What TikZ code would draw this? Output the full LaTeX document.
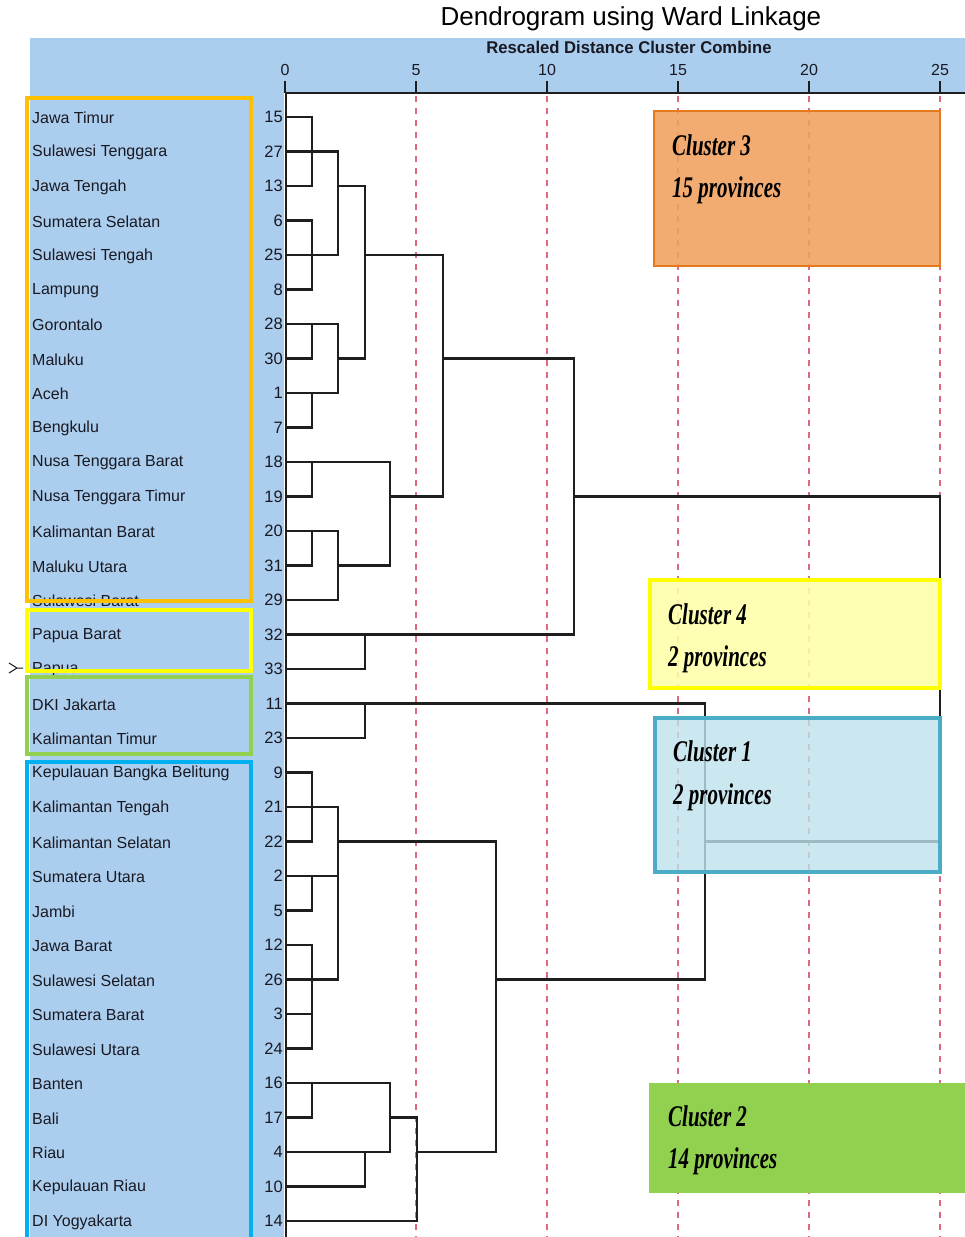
\documentclass[tikz,border=0pt]{standalone}
\usepackage{fontspec}
\usepackage{graphicx}
\setmainfont{Liberation Sans}
\newfontfamily\clfont{Liberation Serif}
\definecolor{hblue}{RGB}{172,206,238}
\definecolor{reddash}{RGB}{222,105,125}
\definecolor{dendro}{RGB}{30,30,30}
\definecolor{txt}{RGB}{25,25,35}
\definecolor{orangeB}{RGB}{255,192,0}
\definecolor{yellowB}{RGB}{255,255,0}
\definecolor{greenB}{RGB}{146,208,80}
\definecolor{blueB}{RGB}{0,176,240}
\definecolor{cthreefill}{RGB}{240,160,95}
\definecolor{cthreeborder}{RGB}{230,120,30}
\definecolor{cfourfill}{RGB}{255,255,170}
\definecolor{conefill}{RGB}{190,225,235}
\definecolor{coneborder}{RGB}{75,172,198}
\definecolor{ctwofill}{RGB}{146,208,80}
\def\Yrow#1{\csname yy#1\endcsname}
\def\mxa{312}\def\mxb{338}\def\mxc{365}\def\mxd{390}\def\mxe{417}
\def\mxf{443}\def\mxg{496}\def\mxh{574}\def\mxi{705}\def\mxj{940}
\newcommand\hseg[3]{\draw[dend] (#2,\Yrow{#1}) -- (#3,\Yrow{#1});}
\newcommand\vseg[3]{\draw[dend] (#1,\Yrow{#2}) -- (#1,\Yrow{#3});}
\begin{document}
\begin{tikzpicture}[x=1pt,y=-1pt,
  dend/.style={draw=dendro,line width=2.2pt,line cap=rect},
  redline/.style={draw=reddash,line width=1.3pt,dash pattern=on 6pt off 6pt},
  axisline/.style={draw=dendro,line width=2.2pt},
  lab/.style={text=txt,font=\fontsize{16}{16}\selectfont,inner sep=0pt,anchor=west},
  num/.style={text=txt,font=\fontsize{16.5}{16}\selectfont,inner sep=0pt,anchor=east},
  ticklab/.style={text=txt,font=\fontsize{16}{16}\selectfont,inner sep=0pt},
  leftbox/.style={line width=4.5pt},
  cltext/.style={inner sep=0pt,anchor=west,text=black,font=\clfont\bfseries\itshape\fontsize{30}{30}\selectfont}]
\useasboundingbox (0,0) rectangle (965,1237);
% background bands
\fill[hblue] (30,38) rectangle (965,93);
\fill[hblue] (30,93) rectangle (284,1237);
% titles
\node[text=black,font=\fontsize{26}{26}\selectfont,inner sep=0pt] (title) at (631,19) {Dendrogram using Ward Linkage};
\node[text=txt,font=\bfseries\fontsize{17}{17}\selectfont,inner sep=0pt] (subtitle) at (629,47) {\scalebox{0.98}[1]{Rescaled Distance Cluster Combine}};
% dashed reference lines
\foreach \d in {5,10,15,20,25}
  \draw[redline] ({285+26.2*\d},96) -- ({285+26.2*\d},1237);
% axis
\draw[axisline] (285,93) -- (965,93);
\draw[draw=dendro,line width=1.8pt] (286,93) -- (286,1237);
\foreach \d in {0,5,10,15,20,25} {
  \draw[draw=dendro,line width=1.8pt] ({285+26.2*\d},81) -- ({285+26.2*\d},93);
  \node[ticklab] (t\d) at ({285+26.2*\d},70) {\d};
}
% rows: labels, numbers, leaf lines
\foreach [count=\i from 0] \l/\nm/\xe in {
 15/Jawa Timur/\mxa, 27/Sulawesi Tenggara/\mxb, 13/Jawa Tengah/\mxa,
 6/Sumatera Selatan/\mxa, 25/Sulawesi Tengah/\mxb, 8/Lampung/\mxa,
 28/Gorontalo/\mxb, 30/Maluku/\mxa, 1/Aceh/\mxb, 7/Bengkulu/\mxa,
 18/Nusa Tenggara Barat/\mxd, 19/Nusa Tenggara Timur/\mxa,
 20/Kalimantan Barat/\mxb, 31/Maluku Utara/\mxa, 29/Sulawesi Barat/\mxb,
 32/Papua Barat/\mxh, 33/Papua/\mxc, 11/DKI Jakarta/\mxi,
 23/Kalimantan Timur/\mxc, 9/Kepulauan Bangka Belitung/\mxa,
 21/Kalimantan Tengah/\mxb, 22/Kalimantan Selatan/\mxa,
 2/Sumatera Utara/\mxb, 5/Jambi/\mxa, 12/Jawa Barat/\mxa,
 26/Sulawesi Selatan/\mxb, 3/Sumatera Barat/\mxa, 24/Sulawesi Utara/\mxa,
 16/Banten/\mxd, 17/Bali/\mxa, 4/Riau/\mxd, 10/Kepulauan Riau/\mxc,
 14/DI Yogyakarta/\mxe} {
  \pgfmathsetmacro\yy{117+34.5*\i}
  \expandafter\xdef\csname yy\l\endcsname{\yy}
  \node[lab] (p\l) at (32,\yy+1) {\nm};
  \node[num] (n\l) at (283,\yy) {\l};
  \draw[dend] (286,\yy) -- (\xe,\yy);
}
% other horizontals
\hseg{13}{\mxb}{\mxc}
\hseg{30}{\mxb}{\mxc}
\hseg{25}{\mxc}{\mxf}
\hseg{31}{\mxb}{\mxd}
\hseg{19}{\mxd}{\mxf}
\hseg{30}{\mxf}{\mxh}
\hseg{19}{\mxh}{\mxj}
\hseg{22}{\mxb}{\mxg}
\hseg{17}{\mxd}{\mxe}
\hseg{4}{\mxe}{\mxg}
\hseg{26}{\mxg}{\mxi}
\hseg{22}{\mxi}{\mxj}
% verticals
\vseg{\mxa}{15}{13}\vseg{\mxa}{6}{8}\vseg{\mxa}{28}{30}\vseg{\mxa}{1}{7}
\vseg{\mxa}{18}{19}\vseg{\mxa}{20}{31}\vseg{\mxa}{9}{22}\vseg{\mxa}{2}{5}
\vseg{\mxa}{12}{24}\vseg{\mxa}{16}{17}
\vseg{\mxb}{27}{25}\vseg{\mxb}{28}{1}\vseg{\mxb}{20}{29}\vseg{\mxb}{21}{26}
\vseg{\mxc}{13}{30}\vseg{\mxc}{32}{33}\vseg{\mxc}{11}{23}\vseg{\mxc}{4}{10}
\vseg{\mxd}{18}{31}\vseg{\mxd}{16}{4}
\vseg{\mxe}{17}{14}
\vseg{\mxf}{25}{19}
\vseg{\mxg}{22}{4}
\vseg{\mxh}{30}{32}
\vseg{\mxi}{11}{26}
\vseg{\mxj}{19}{22}
% small marker
\draw[draw=txt,line width=1pt] (9,663) -- (17,668) -- (9,673) (17,668) -- (23,668);
% left cluster boxes
\draw[leftbox,draw=orangeB] (27,98) rectangle (251,601);
\draw[leftbox,draw=yellowB] (27,610) rectangle (251,671);
\draw[leftbox,draw=greenB] (27,677) rectangle (251,754);
\draw[leftbox,draw=blueB] (27,762) rectangle (251,1250);
% right cluster boxes
\draw[fill=cthreefill,fill opacity=0.88,draw=cthreeborder,line width=1.5pt] (654,111) rectangle (940,266);
\draw[fill=cfourfill,fill opacity=0.88,draw=yellowB,line width=4.5pt] (650,580) rectangle (940,688);
\draw[fill=conefill,fill opacity=0.8,draw=coneborder,line width=4pt] (655,718) rectangle (940,872);
\fill[ctwofill] (649,1083) rectangle (965,1193);
% cluster texts
\node[cltext] (c3a) at (672,145) {\scalebox{0.7}[1]{Cluster 3}};
\node[cltext] (c3b) at (672,190) {\scalebox{0.7}[1]{15 provinces}};
\node[cltext] (c4a) at (668,614) {\scalebox{0.7}[1]{Cluster 4}};
\node[cltext] (c4b) at (668,659) {\scalebox{0.7}[1]{2 provinces}};
\node[cltext] (c1a) at (673,751) {\scalebox{0.7}[1]{Cluster 1}};
\node[cltext] (c1b) at (673,797) {\scalebox{0.7}[1]{2 provinces}};
\node[cltext] (c2a) at (668,1116) {\scalebox{0.7}[1]{Cluster 2}};
\node[cltext] (c2b) at (668,1161) {\scalebox{0.7}[1]{14 provinces}};
\end{tikzpicture}
\end{document}
